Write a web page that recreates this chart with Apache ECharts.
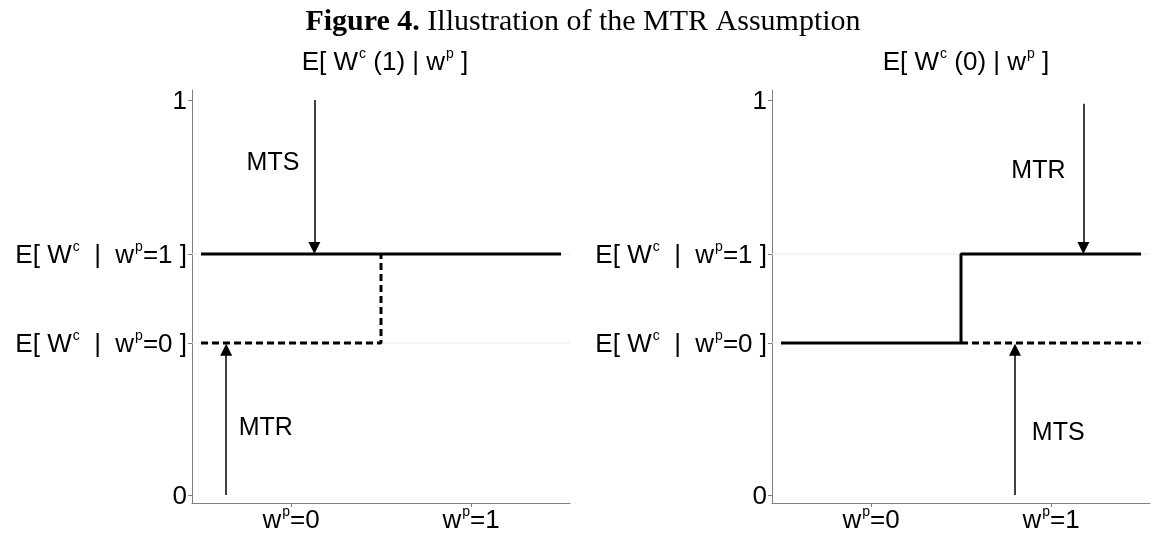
<!DOCTYPE html>
<html><head><meta charset="utf-8">
<script src="https://cdn.jsdelivr.net/npm/echarts@6/dist/echarts.min.js"></script>
<style>html,body{margin:0;padding:0;background:#fff}#c{width:1156px;height:534px}</style>
</head><body><div id="c"></div>
<script>
// ---- data ----
const xTicks = [0, 1];                 // w^p = 0, w^p = 1
const xTickLabels = ['0', '1'];
const yLevels = [0, 0.385, 0.61, 1];    // 0, E[W^c|w^p=0], E[W^c|w^p=1], 1
const yTickLabels = ['0', 'E0', 'E1', '1'];
// left panel: E[W^c(1)|w^p]
const leftSolid  = [[-0.5, 0.61], [1.5, 0.61]];
const leftDashed = [[-0.5, 0.385], [0.5, 0.385], [0.5, 0.61]];
const leftArrows = [[[0.13, 1.0], [0.13, 0.625]], [[-0.36, 0.0], [-0.36, 0.368]]];
const leftTexts  = [[-0.1, 0.84, 'MTS'], [-0.14, 0.17, 'MTR']];
// right panel: E[W^c(0)|w^p]
const rightSolid  = [[-0.5, 0.385], [0.5, 0.385], [0.5, 0.61], [1.5, 0.61]];
const rightDashed = [[0.5, 0.385], [1.5, 0.385]];
const rightArrows = [[[1.18, 0.99], [1.18, 0.625]], [[0.8, 0.0], [0.8, 0.368]]];
const rightTexts  = [[0.93, 0.82, 'MTR'], [1.04, 0.156, 'MTS']];
const gridLevels = [0.385, 0.61];

const chart = echarts.init(document.getElementById('c'));
const FONT = '"Liberation Sans", Arial, sans-serif';
const SERIF = '"Liberation Serif", "Times New Roman", serif';

const richY = {
  n: {fontSize: 26, fontFamily: FONT, fontWeight: 'normal', color: '#000', lineHeight: 30, verticalAlign: 'bottom'},
  s: {fontSize: 14, fontFamily: FONT, fontWeight: 'normal', color: '#000', lineHeight: 30, verticalAlign: 'top', padding: [1, 0, 0, 1]}
};
function yFmt(v) {
  const i = yLevels.findIndex(l => Math.abs(l - v) < 1e-6);
  const t = yTickLabels[i];
  if (t === 'E1') return '{n|E[ W}{s|c}{n|  |  w}{s|p}{n|=1 ]}';
  if (t === 'E0') return '{n|E[ W}{s|c}{n|  |  w}{s|p}{n|=0 ]}';
  return '{n|' + t + '}';
}
function xFmt(v) {
  const i = xTicks.findIndex(l => Math.abs(l - v) < 1e-6);
  return '{n|w}{s|p}{n|=' + xTickLabels[i] + '}';
}
const axisGray = '#7f7f7f';
function mkX(gi) {
  return {
    type: 'value', gridIndex: gi, min: -0.55, max: 1.55,
    axisLine: {show: true, onZero: false, lineStyle: {color: axisGray, width: 1}},
    axisTick: {show: true, customValues: xTicks, length: 4, lineStyle: {color: axisGray}},
    axisLabel: {show: true, customValues: xTicks, formatter: xFmt, rich: richY, margin: 1},
    splitLine: {show: false}
  };
}
function mkY(gi) {
  return {
    type: 'value', gridIndex: gi, min: -0.02, max: 1.025,
    axisLine: {show: true, onZero: false, lineStyle: {color: axisGray, width: 1}},
    axisTick: {show: true, customValues: yLevels, length: 4, lineStyle: {color: axisGray}},
    axisLabel: {show: true, customValues: yLevels, formatter: yFmt, rich: richY, margin: 5},
    splitLine: {show: false}
  };
}
function panelSeries(gi, solid, dashed, arrows, texts) {
  const s = [];
  gridLevels.forEach(g => s.push({
    type: 'line', xAxisIndex: gi, yAxisIndex: gi, data: [[-0.55, g], [1.55, g]],
    symbol: 'none', lineStyle: {color: '#ebebeb', width: 1}, z: 1, silent: true
  }));
  s.push({type: 'line', xAxisIndex: gi, yAxisIndex: gi, data: solid, symbol: 'none',
    lineStyle: {color: '#000', width: 3}, z: 3});
  s.push({type: 'line', xAxisIndex: gi, yAxisIndex: gi, data: dashed, symbol: 'none',
    lineStyle: {color: '#000', width: 3, type: [7, 4]}, z: 3});
  s.push({type: 'lines', coordinateSystem: 'cartesian2d', xAxisIndex: gi, yAxisIndex: gi,
    data: arrows.map(a => ({coords: a})), symbol: ['none', 'triangle'], symbolSize: [11, 12],
    lineStyle: {color: '#000', width: 1.5, opacity: 1}, z: 4});
  s.push({type: 'scatter', xAxisIndex: gi, yAxisIndex: gi, symbolSize: 0,
    itemStyle: {opacity: 1, color: '#000'},
    data: texts.map(t => ({value: [t[0], t[1]], name: t[2]})),
    label: {show: true, position: [0, 0], align: 'center', verticalAlign: 'middle', opacity: 1,
      formatter: p => p.name, fontSize: 25, fontFamily: FONT, color: '#000'},
    z: 5});
  return s;
}
chart.setOption({
  animation: false,
  backgroundColor: '#fff',
  title: [
    {text: '{b|Figure 4.}{r| Illustration of the MTR Assumption}', left: 578, top: 2, textAlign: 'center',
      textStyle: {rich: {b: {fontFamily: SERIF, fontSize: 30, fontWeight: 'bold', color: '#000'},
                         r: {fontFamily: SERIF, fontSize: 30, fontWeight: 'normal', color: '#000'}}}},
    {text: '{n|E[ W}{s|c}{n| (1) | w}{s|p}{n| ]}', left: 380, top: 41, textAlign: 'center',
      textStyle: {rich: richY}},
    {text: '{n|E[ W}{s|c}{n| (0) | w}{s|p}{n| ]}', left: 961, top: 41, textAlign: 'center',
      textStyle: {rich: richY}}
  ],
  grid: [
    {left: 192, right: 586, top: 90, bottom: 31},
    {left: 772, right: 6, top: 90, bottom: 31}
  ],
  xAxis: [mkX(0), mkX(1)],
  yAxis: [mkY(0), mkY(1)],
  series: [].concat(
    panelSeries(0, leftSolid, leftDashed, leftArrows, leftTexts),
    panelSeries(1, rightSolid, rightDashed, rightArrows, rightTexts)
  )
});
</script></body></html>
